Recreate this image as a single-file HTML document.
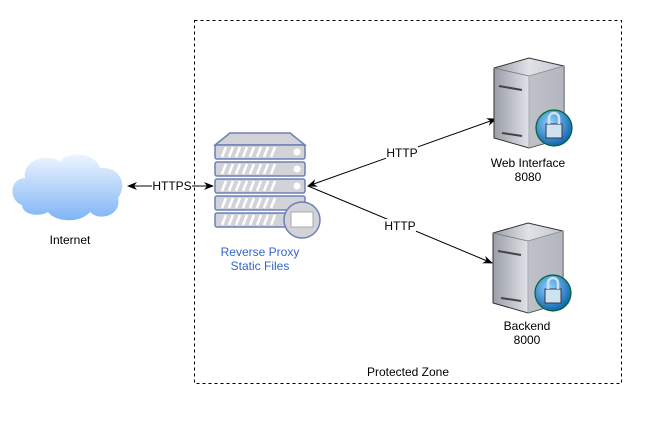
<!DOCTYPE html>
<html><head><style>
body{margin:0;background:#fff;width:664px;height:430px;overflow:hidden}
svg{display:block}
text{font-family:"Liberation Sans",sans-serif;font-size:12px}
</style></head><body>
<svg width="664" height="430" viewBox="0 0 664 430">
<defs>
<linearGradient id="cl" x1="0" y1="0" x2="0" y2="1"><stop offset="0" stop-color="#eef5ff"/><stop offset="1" stop-color="#7fb5f5"/></linearGradient>
<linearGradient id="sf" x1="0" y1="0" x2="1" y2="0"><stop offset="0" stop-color="#9a9ea8"/><stop offset=".5" stop-color="#e0e2e8"/><stop offset="1" stop-color="#c4c7ce"/></linearGradient>
<radialGradient id="lk" cx=".4" cy=".35" r=".7"><stop offset="0" stop-color="#8fd3ff"/><stop offset="1" stop-color="#0a5fa8"/></radialGradient>
<marker id="ah" markerWidth="10" markerHeight="8" refX="9" refY="4" orient="auto-start-reverse" markerUnits="userSpaceOnUse"><path d="M0,0 L10,4 L0,8 L3,4z" fill="#000"/></marker>
<g id="srv">
<path d="M0,10 L35,0 L70,8 L70,80 L35,90 L0,80z" fill="url(#sf)" stroke="#333" stroke-width="1"/>
<path d="M0,10 L35,18 L70,8" fill="none" stroke="#777" stroke-width="0.8"/>
<path d="M35,18 L35,90" stroke="#999" stroke-width="0.8"/>
<path d="M35,18 L70,8 L70,80 L35,90z" fill="#a9acb4" opacity=".6"/>
<line x1="5" y1="28" x2="28" y2="32" stroke="#444" stroke-width="2"/>
<line x1="8" y1="75" x2="28" y2="78" stroke="#444" stroke-width="2"/>
<circle cx="60" cy="70" r="18" fill="url(#lk)" stroke="#063" stroke-width="1.2"/>
<rect x="52" y="66" width="16" height="14" fill="#cfe3ef" stroke="#335"/>
<path d="M55,66 v-6 a5,5 0 0 1 10,0 v6" fill="none" stroke="#cfe3ef" stroke-width="2.5"/>
</g>
</defs>
<rect x="194.5" y="20.5" width="427" height="363" fill="none" stroke="#000" stroke-dasharray="3,3"/>
<text x="408" y="376" text-anchor="middle">Protected Zone</text>
<!-- cloud -->
<path d="M22,205 C8,200 10,178 25,178 C22,160 48,152 60,162 C68,150 95,152 100,168 C120,166 128,185 118,198 C122,215 100,222 90,212 C80,224 55,222 48,212 C38,218 22,214 22,205z" fill="url(#cl)"/>
<text x="70" y="244" text-anchor="middle">Internet</text>
<!-- https -->
<line x1="128" y1="186" x2="213" y2="186" stroke="#000" marker-start="url(#ah)" marker-end="url(#ah)"/>
<rect x="152" y="179" width="40" height="14" fill="#fff"/>
<text x="172" y="190" text-anchor="middle">HTTPS</text>
<!-- proxy -->
<g stroke="#6c80b5" stroke-width="1.5">
<path d="M215,145 L230,133 L290,133 L305,145z" fill="#d1d3d8"/>
<rect x="215" y="145" width="90" height="14" rx="2" fill="#d1d3d8"/>
<rect x="215" y="162" width="90" height="14" rx="2" fill="#d1d3d8"/>
<rect x="215" y="179" width="90" height="14" rx="2" fill="#d1d3d8"/>
<rect x="215" y="196" width="90" height="14" rx="2" fill="#d1d3d8"/>
<rect x="215" y="213" width="90" height="14" rx="2" fill="#d1d3d8"/>
</g>
<g stroke="#fff" stroke-width="2.5">
<path d="M222,157l4,-10M229,157l4,-10M236,157l4,-10M243,157l4,-10M250,157l4,-10M257,157l4,-10M264,157l4,-10M271,157l4,-10"/>
<path d="M222,174l4,-10M229,174l4,-10M236,174l4,-10M243,174l4,-10M250,174l4,-10M257,174l4,-10M264,174l4,-10M271,174l4,-10"/>
<path d="M222,191l4,-10M229,191l4,-10M236,191l4,-10M243,191l4,-10M250,191l4,-10M257,191l4,-10M264,191l4,-10M271,191l4,-10"/>
<path d="M222,208l4,-10M229,208l4,-10M236,208l4,-10M243,208l4,-10M250,208l4,-10M257,208l4,-10M264,208l4,-10M271,208l4,-10"/>
<path d="M222,225l4,-10M229,225l4,-10M236,225l4,-10M243,225l4,-10M250,225l4,-10M257,225l4,-10M264,225l4,-10M271,225l4,-10"/>
</g>
<g fill="#fff"><circle cx="297" cy="152" r="3.5"/><circle cx="297" cy="169" r="3.5"/><circle cx="297" cy="186" r="3.5"/></g>
<circle cx="302" cy="220" r="18" fill="#d1d3d8" stroke="#6c80b5" stroke-width="1.5"/>
<rect x="291" y="212" width="22" height="15" fill="#fff" stroke="#aaa"/>
<text x="260" y="256" text-anchor="middle" fill="#3366cc">Reverse Proxy</text>
<text x="260" y="270" text-anchor="middle" fill="#3366cc">Static Files</text>
<!-- connectors -->
<line x1="308" y1="186" x2="496" y2="119" stroke="#000" marker-start="url(#ah)" marker-end="url(#ah)"/>
<rect x="386" y="146" width="32" height="14" fill="#fff"/>
<text x="402" y="157" text-anchor="middle">HTTP</text>
<line x1="308" y1="186" x2="492" y2="263" stroke="#000" marker-end="url(#ah)"/>
<rect x="384" y="219" width="32" height="14" fill="#fff"/>
<text x="400" y="230" text-anchor="middle">HTTP</text>
<!-- servers -->
<use href="#srv" x="494" y="58"/>
<text x="528" y="167" text-anchor="middle">Web Interface</text>
<text x="528" y="181" text-anchor="middle">8080</text>
<use href="#srv" x="493" y="223"/>
<text x="527" y="330" text-anchor="middle">Backend</text>
<text x="527" y="344" text-anchor="middle">8000</text>
</svg>
</body></html>
